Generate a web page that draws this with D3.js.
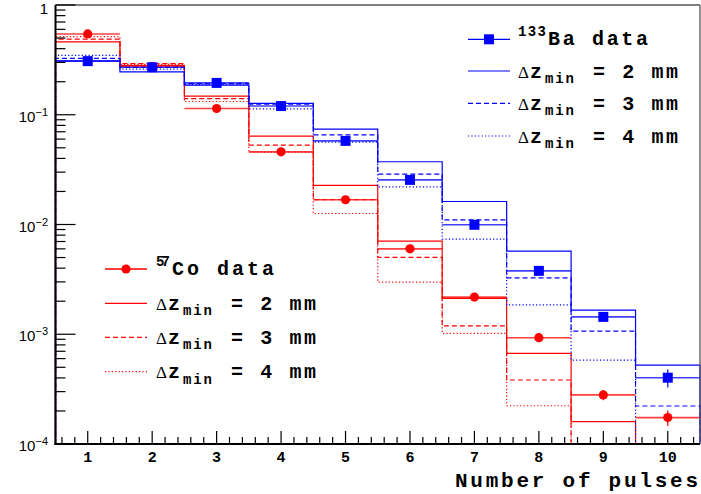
<!DOCTYPE html>
<html><head><meta charset="utf-8">
<script src="https://cdn.jsdelivr.net/npm/d3@7/dist/d3.min.js"></script>
<style>body{margin:0;background:#fff}svg{display:block}</style>
</head><body>
<svg id="c" width="701" height="494"></svg>
<script>
// ---- data ----
const bins = [1,2,3,4,5,6,7,8,9,10];
const xTickLabels = ["1","2","3","4","5","6","7","8","9","10"];
const yTickExps = [0,-1,-2,-3,-4];
const baData = [0.308,0.271,0.195,0.120,0.0578,0.0255,0.00994,0.00378,0.00144,0.000402];
const baErr  = [0.005,0.004,0.003,0.002,0.001,0.0005,0.0003,0.00012,0.00008,0.000075];
const ba2mm  = [0.310,0.246,0.186,0.127,0.0740,0.0373,0.0162,0.00573,0.00166,0.000524];
const ba3mm  = [0.326,0.270,0.192,0.125,0.0656,0.0288,0.0110,0.00327,0.00107,0.000222];
const ba4mm  = [0.347,0.260,0.188,0.113,0.0563,0.0220,0.00736,0.00185,0.000582,0];
const coData = [0.545,0.275,0.114,0.0459,0.0168,0.0060,0.00218,0.00093,0.00028,0.000174];
const coErr  = [0.008,0.005,0.002,0.001,0.0004,0.0002,0.00008,0.00005,0.00003,0.000028];
const co2mm  = [0.461,0.282,0.148,0.0638,0.0227,0.00706,0.00212,0.00067,0.00016,0];
const co3mm  = [0.488,0.293,0.140,0.0529,0.0168,0.00501,0.00119,0.000383,0,0];
const co4mm  = [0.514,0.288,0.132,0.0457,0.0126,0.00298,0.00102,0.000223,0,0];
const xTitle = "Number of pulses";

// ---- layout ----
const svg = d3.select("#c");
const X0 = 55.5, X1 = 700, Y0 = 444, Y1 = 5;
const x = d3.scaleLinear().domain([0.5,10.5]).range([X0,X1]);
const y = d3.scaleLog().domain([1e-4,1]).range([Y0,Y1]);
const yc = v => y(Math.max(v,1e-4));
const RED = "#ff0000", BLUE = "#0000ff";
const MONO = "'Liberation Mono','DejaVu Sans Mono',monospace";

// histograms
function hist(vals, color, dash){
  const pts = [[0.5,1e-4]];
  vals.forEach((v,i)=>{ pts.push([bins[i]-0.5,v]); pts.push([bins[i]+0.5,v]); });
  pts.push([10.5,1e-4]);
  const line = d3.line().x(d=>x(d[0])).y(d=>yc(d[1]));
  svg.append("path").attr("d",line(pts)).attr("fill","none")
    .attr("stroke",color).attr("stroke-width",1.2)
    .attr("stroke-dasharray",dash||null);
}
const DASH = "5,3", DOT = "1.2,2.2";
hist(co4mm,RED,DOT); hist(co3mm,RED,DASH); hist(co2mm,RED,null);
hist(ba4mm,BLUE,DOT); hist(ba3mm,BLUE,DASH); hist(ba2mm,BLUE,null);

// data points with error bars
function dataSeries(vals, errs, color, marker){
  const g = svg.append("g");
  vals.forEach((v,i)=>{
    g.append("line").attr("x1",x(bins[i]-0.5)).attr("x2",x(bins[i]+0.5))
      .attr("y1",yc(v)).attr("y2",yc(v)).attr("stroke",color).attr("stroke-width",1.6).attr("stroke-opacity",0.75);
    g.append("line").attr("x1",x(bins[i])).attr("x2",x(bins[i]))
      .attr("y1",yc(v+errs[i])).attr("y2",yc(v-errs[i])).attr("stroke",color).attr("stroke-width",1.2);
    if(marker==="circle") g.append("circle").attr("cx",x(bins[i])).attr("cy",yc(v)).attr("r",4.6).attr("fill",color);
    else g.append("rect").attr("x",x(bins[i])-5).attr("y",yc(v)-5).attr("width",10).attr("height",10).attr("fill",color);
  });
}
dataSeries(coData,coErr,RED,"circle");
dataSeries(baData,baErr,BLUE,"square");

// frame
svg.append("line").attr("x1",X0).attr("x2",X1).attr("y1",Y1).attr("y2",Y1).attr("stroke","#555").attr("stroke-width",1.3);
svg.append("line").attr("x1",X1).attr("x2",X1).attr("y1",Y1).attr("y2",Y0).attr("stroke","#555").attr("stroke-width",1.3);
svg.append("line").attr("x1",X0).attr("x2",X0).attr("y1",Y1).attr("y2",Y0+1).attr("stroke","#000").attr("stroke-width",2);
svg.append("line").attr("x1",X0-1).attr("x2",X1).attr("y1",Y0).attr("y2",Y0).attr("stroke","#000").attr("stroke-width",2);

// y ticks
const ax = svg.append("g").attr("stroke","#000").attr("stroke-width",1.2);
yTickExps.forEach(e=>{
  const base = Math.pow(10,e);
  ax.append("line").attr("x1",X0).attr("x2",X0+20).attr("y1",y(base)).attr("y2",y(base));
  if(e>-4){ for(let k=1;k<=9;k++){ const v=base/10*k; if(k===1) continue;
    ax.append("line").attr("x1",X0).attr("x2",X0+10).attr("y1",y(v)).attr("y2",y(v)); } }
});
// x ticks
for(let t=0.6;t<10.5;t+=0.2){
  const r = Math.round(t*10)/10;
  const major = Math.abs(r-Math.round(r))<1e-6;
  ax.append("line").attr("x1",x(r)).attr("x2",x(r)).attr("y1",Y0).attr("y2",Y0-(major?13:7));
}
// y labels
yTickExps.forEach(e=>{
  const t = svg.append("text").attr("x",48).attr("y",e===0?14:y(Math.pow(10,e))+7)
    .attr("text-anchor","end").attr("font-family","'Liberation Sans',Arial,sans-serif").attr("font-size",15).attr("fill","#000");
  if(e===0){ t.text("1"); }
  else { t.append("tspan").text("10"); t.append("tspan").attr("dy",-6).attr("font-size",11).text("\u2212"+(-e)); }
});
// x labels
bins.forEach((b,i)=>{
  svg.append("text").attr("x",x(b)).attr("y",462).attr("text-anchor","middle")
    .attr("font-family",MONO).attr("font-weight","bold").attr("font-size",15).text(xTickLabels[i]);
});
svg.append("text").attr("x",455).attr("y",487).attr("font-family",MONO).attr("font-weight","bold")
  .attr("font-size",21).attr("textLength",243).attr("lengthAdjust","spacing").text(xTitle);

// legends
function legend(cfg){
  const {lx0,lx1,tx,rows,color,marker,iso,name,nameLen,isoLen} = cfg;
  const r0 = rows[0];
  svg.append("line").attr("x1",lx0).attr("x2",lx1).attr("y1",r0).attr("y2",r0).attr("stroke",color).attr("stroke-width",1.3);
  const mx=(lx0+lx1)/2;
  if(marker==="circle") svg.append("circle").attr("cx",mx).attr("cy",r0).attr("r",4.6).attr("fill",color);
  else svg.append("rect").attr("x",mx-5).attr("y",r0-5).attr("width",10).attr("height",10).attr("fill",color);
  svg.append("text").attr("x",tx).attr("y",r0-3).attr("font-family",MONO).attr("font-weight","bold")
    .attr("font-size",14).attr("textLength",isoLen).attr("lengthAdjust","spacing").text(iso);
  svg.append("text").attr("x",tx+isoLen+2).attr("y",r0+6).attr("font-family",MONO).attr("font-weight","bold")
    .attr("font-size",20).attr("textLength",nameLen).attr("lengthAdjust","spacing").text(name);
  const labels = ["= 2 mm","= 3 mm","= 4 mm"];
  const dashes = [null,DASH,DOT];
  for(let j=1;j<4;j++){
    const ry = rows[j];
    svg.append("line").attr("x1",lx0).attr("x2",lx1).attr("y1",ry).attr("y2",ry).attr("stroke",color)
      .attr("stroke-width",1.2).attr("stroke-dasharray",dashes[j-1]);
    const b = ry+6.5;
    svg.append("text").attr("x",tx).attr("y",b).attr("font-family","'Liberation Serif','DejaVu Serif',serif")
      .attr("font-size",17).text("\u0394");
    svg.append("text").attr("x",tx+12).attr("y",b).attr("font-family",MONO).attr("font-weight","bold")
      .attr("font-size",20).text("z");
    svg.append("text").attr("x",tx+27).attr("y",b+5.5).attr("font-family",MONO).attr("font-weight","bold")
      .attr("font-size",14).attr("textLength",29).attr("lengthAdjust","spacing").text("min");
    svg.append("text").attr("x",tx+75).attr("y",b).attr("font-family",MONO).attr("font-weight","bold")
      .attr("font-size",20).attr("textLength",85).attr("lengthAdjust","spacing").text(labels[j-1]);
  }
}
legend({lx0:468,lx1:510,tx:518,rows:[39.3,71,103.3,136],color:BLUE,marker:"square",iso:"133",isoLen:28,name:"Ba data",nameLen:100});
legend({lx0:105,lx1:147,tx:156,rows:[269,303.3,337.3,371.7],color:RED,marker:"circle",iso:"57",isoLen:14,name:"Co data",nameLen:102});
</script>
</body></html>
